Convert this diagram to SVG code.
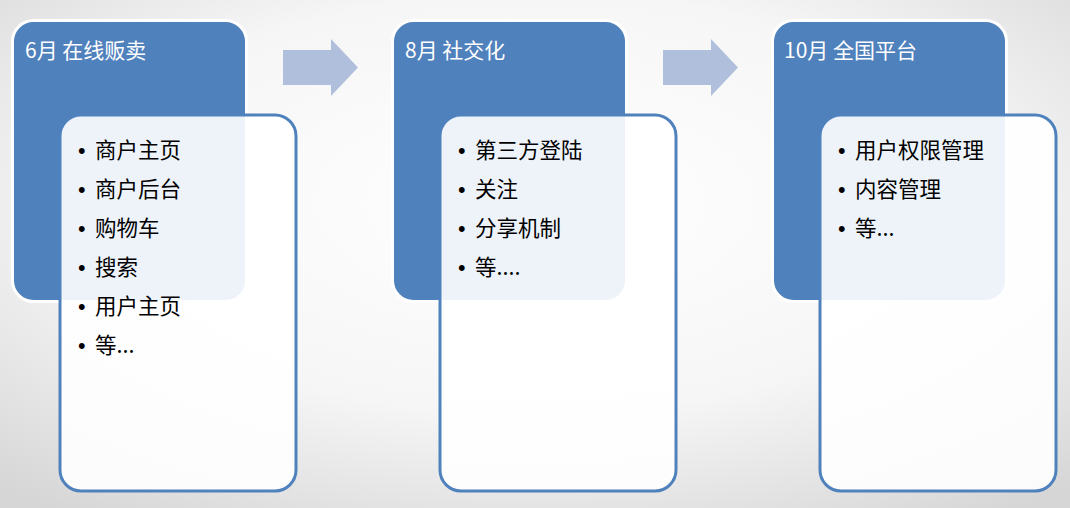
<svg xmlns="http://www.w3.org/2000/svg" width="1070" height="508" viewBox="0 0 1070 508">
<defs>
<radialGradient id="bg" cx="50%" cy="40%" r="75%">
<stop offset="0" stop-color="#ffffff"/>
<stop offset="0.55" stop-color="#f6f6f6"/>
<stop offset="1" stop-color="#d6d6d6"/>
</radialGradient>
<style>
.head{fill:#4f81bd;stroke:#ffffff;stroke-width:3}
.body{fill:#ffffff;fill-opacity:0.9;stroke:#4f81bd;stroke-width:3}
.title{font-family:"Noto Sans CJK SC","Liberation Sans",sans-serif;font-size:21px;fill:#ffffff}
.item{font-family:"Noto Sans CJK SC","Liberation Sans",sans-serif;font-size:21.5px;fill:#000000}
.b{font-family:"Liberation Sans",sans-serif}
.arrow{fill:#b0c0dc}
</style>
</defs>
<rect x="0" y="0" width="1070" height="508" fill="url(#bg)"/>
<g id="connectors">
<polygon class="arrow" points="283,50 331,50 331,39 358,67.5 331,96 331,85 283,85"/>
<polygon class="arrow" points="663,50 711,50 711,39 738,67.5 711,96 711,85 663,85"/>
</g>
<g id="panel-6">
<rect class="head" x="12.5" y="20.5" width="234" height="281" rx="21"/>
<rect class="body" x="60" y="115" width="236" height="376" rx="21"/>
<text class="title" x="25" y="58">6月 在线贩卖</text>
<g class="item">
<text x="78" y="158"><tspan class="b">•</tspan><tspan x="95">商户主页</tspan></text>
<text x="78" y="197"><tspan class="b">•</tspan><tspan x="95">商户后台</tspan></text>
<text x="78" y="236"><tspan class="b">•</tspan><tspan x="95">购物车</tspan></text>
<text x="78" y="275"><tspan class="b">•</tspan><tspan x="95">搜索</tspan></text>
<text x="78" y="314"><tspan class="b">•</tspan><tspan x="95">用户主页</tspan></text>
<text x="78" y="353"><tspan class="b">•</tspan><tspan x="95">等...</tspan></text>
</g>
</g>
<g id="panel-8">
<rect class="head" x="392.5" y="20.5" width="234" height="281" rx="21"/>
<rect class="body" x="440" y="115" width="236" height="376" rx="21"/>
<text class="title" x="405" y="58">8月 社交化</text>
<g class="item">
<text x="458" y="158"><tspan class="b">•</tspan><tspan x="475">第三方登陆</tspan></text>
<text x="458" y="197"><tspan class="b">•</tspan><tspan x="475">关注</tspan></text>
<text x="458" y="236"><tspan class="b">•</tspan><tspan x="475">分享机制</tspan></text>
<text x="458" y="275"><tspan class="b">•</tspan><tspan x="475">等....</tspan></text>
</g>
</g>
<g id="panel-10">
<rect class="head" x="772.5" y="20.5" width="234" height="281" rx="21"/>
<rect class="body" x="820" y="115" width="236" height="376" rx="21"/>
<text class="title" x="784" y="58">10月 全国平台</text>
<g class="item">
<text x="838" y="158"><tspan class="b">•</tspan><tspan x="855">用户权限管理</tspan></text>
<text x="838" y="197"><tspan class="b">•</tspan><tspan x="855">内容管理</tspan></text>
<text x="838" y="236"><tspan class="b">•</tspan><tspan x="855">等...</tspan></text>
</g>
</g>
</svg>
